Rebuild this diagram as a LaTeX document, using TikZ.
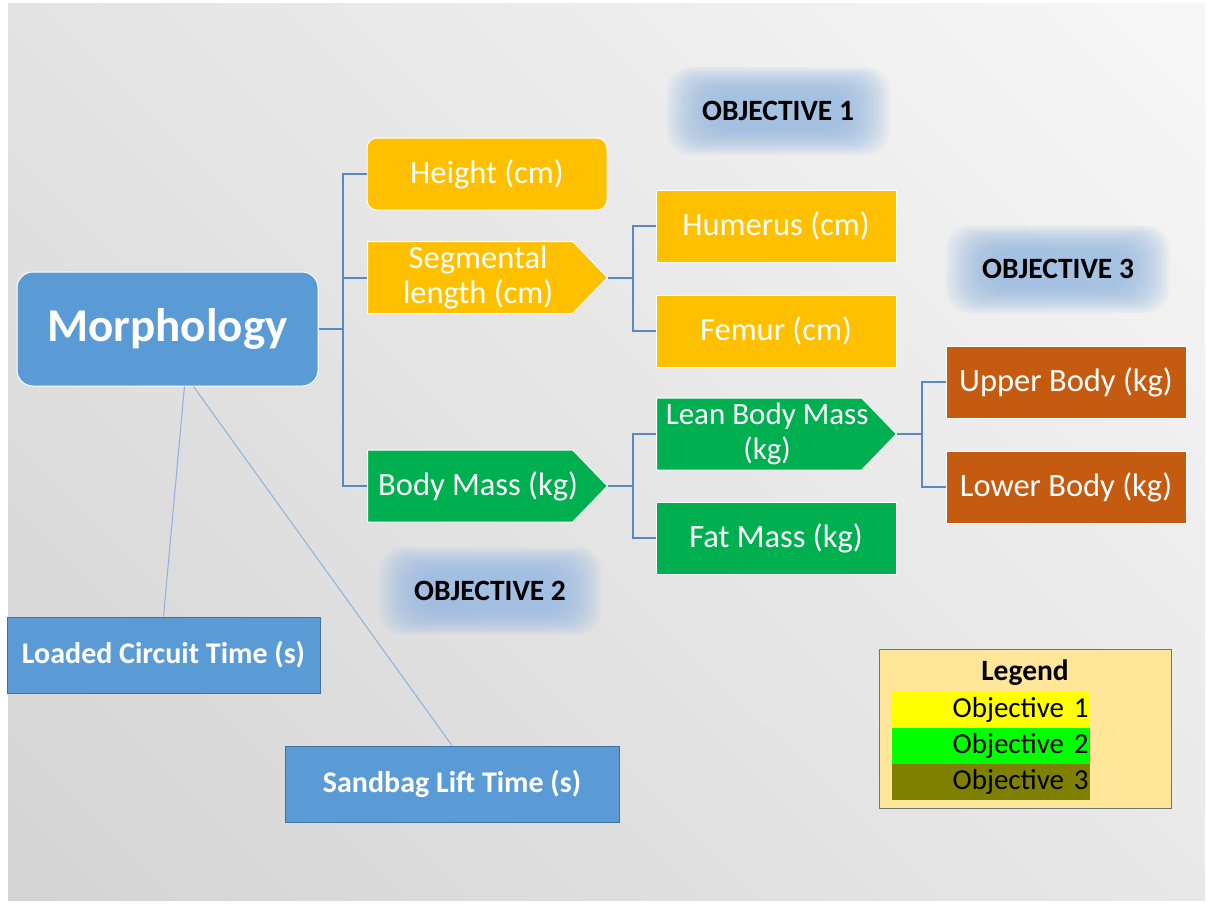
\documentclass[tikz,border=0pt]{standalone}
\usepackage{fontspec}
\setmainfont{Carlito}
\usetikzlibrary{positioning,calc,shapes.symbols,shadings}
\definecolor{morphblue}{RGB}{91,155,213}
\definecolor{morphedge}{RGB}{65,113,156}
\definecolor{objyellow}{RGB}{255,192,0}
\definecolor{objgreen}{RGB}{0,176,80}
\definecolor{objbrown}{RGB}{197,90,17}
\definecolor{linkblue}{RGB}{90,136,194}
\definecolor{faintblue}{RGB}{140,178,222}
\definecolor{glowblue}{RGB}{150,185,225}
\definecolor{legfill}{RGB}{255,230,153}
\definecolor{legyellow}{RGB}{255,255,0}
\definecolor{leggreen}{RGB}{0,255,0}
\definecolor{legolive}{RGB}{128,128,0}
\newcommand{\tipline}[1]{\hspace*{8pt}#1\hspace*{-8pt}}

\begin{document}
\begin{tikzpicture}[x=1pt, y=-1pt,
    box/.style={minimum width=240pt, minimum height=72pt, inner sep=2pt, text=white, draw=white, line width=1pt, align=center, font=\fontsize{32.5}{35}\selectfont},
    tipbox/.style={box, inner xsep=0pt, signal, signal to=east, signal pointer angle=92},
    timebox/.style={draw=morphedge, fill=morphblue, text=white, line width=1pt, minimum height=76pt, font=\bfseries\fontsize{30}{32}\selectfont},
    obj/.style={font=\bfseries\fontsize{29.5}{32}\selectfont},
    conn/.style={draw=linkblue, line width=2pt},
    faintlink/.style={draw=faintblue, line width=1pt},
    legrow/.style={minimum width=198pt, minimum height=36pt, inner sep=0pt, text width=195pt, align=right, font=\fontsize{29}{31}\selectfont}
  ]
    % background
    \fill[white] (0,0) rectangle (1207,905);
    \shade[upper left=black!11, upper right=black!3, lower left=black!17, lower right=black!9] (8,3) rectangle (1205,900);
    \useasboundingbox (0,0) rectangle (1207,905);

    % glow behind the objective labels
    \coordinate (o1pos) at (778,111);
    \coordinate (o2pos) at (490,591);
    \coordinate (o3pos) at (1058,269);
    \foreach \c in {o1pos,o2pos,o3pos}{
      \foreach \k in {0,...,19}{
        \fill[glowblue, opacity=0.07, rounded corners=24pt]
          ($(\c)+(-112+2.2*\k,-44+1.3*\k)$) rectangle ($(\c)+(112-2.2*\k,44-1.3*\k)$);
      }
    }

    \node[rounded corners=16pt, fill=morphblue, draw=white, line width=1pt, minimum width=301pt, minimum height=114pt, text=white, font=\bfseries\fontsize{47}{50}\selectfont] (morph) at (167.5,329) {Morphology};

    \node[box, fill=objyellow, rounded corners=10pt] (height) at (487,174) {Height (cm)};
    \node[tipbox, fill=objyellow, anchor=west] (segm) at (367,277.5) {\tipline{Segmental}\\\tipline{length (cm)}};
    \node[tipbox, fill=objgreen, anchor=west] (body) at (367,486) {\tipline{Body Mass (kg)}};

    \node[box, fill=objyellow] (humerus) at (776,226) {Humerus (cm)};
    \node[box, fill=objyellow] (femur) [below=32pt of humerus] {Femur (cm)};
    \node[tipbox, fill=objgreen, anchor=west, font=\fontsize{31}{35}\selectfont] (lean) at (656,434) {\tipline{Lean Body Mass}\\\tipline{(kg)}};
    \node[box, fill=objgreen] (fat) at (776,538) {Fat Mass (kg)};

    \node[box, fill=objbrown] (upper) at (1066,382) {Upper Body (kg)};
    \node[box, fill=objbrown] (lower) [below=32pt of upper] {Lower Body (kg)};

    \node[timebox, minimum width=313pt] (load) at (163.5,655) {Loaded Circuit Time (s)};
    \node[timebox, minimum width=334pt] (sand) at (452,784) {Sandbag Lift Time (s)};

    \node[obj] (o1) at (o1pos) {OBJECTIVE 1};
    \node[obj] (o2) at (o2pos) {OBJECTIVE 2};
    \node[obj] (o3) at (o3pos) {OBJECTIVE 3};

    % Morphology -> first level
    \coordinate (j1) at ($(morph.east)+(24,0)$);
    \draw[conn] (morph.east) -- (j1);
    \draw[conn] (j1) |- (height.west);
    \draw[conn] (j1) |- (segm.west);
    \draw[conn] (j1) |- (body.west);
    % Segmental length -> bones
    \coordinate (j2) at ($(segm.east)+(25,0)$);
    \draw[conn] (segm.east) -- (j2);
    \draw[conn] (j2) |- (humerus.west);
    \draw[conn] (j2) |- (femur.west);
    % Body mass -> lean / fat
    \coordinate (j3) at ($(body.east)+(25,0)$);
    \draw[conn] (body.east) -- (j3);
    \draw[conn] (j3) |- (lean.west);
    \draw[conn] (j3) |- (fat.west);
    % Lean body mass -> upper / lower
    \coordinate (j4) at ($(lean.east)+(25,0)$);
    \draw[conn] (lean.east) -- (j4);
    \draw[conn] (j4) |- (upper.west);
    \draw[conn] (j4) |- (lower.west);
    % Morphology -> time tests
    \draw[faintlink] ([xshift=17pt]morph.south) -- (load.north);
    \draw[faintlink] ([xshift=26pt]morph.south) -- (sand.north);

    % --- LEGEND ---
    \node[draw=black!55, fill=legfill, line width=1pt, minimum width=292pt, minimum height=159pt] (legend) at (1025,728.5) {};
    \node[font=\bfseries\fontsize{29.5}{31}\selectfont] (legtitle) at ($(legend.north)+(0,24)$) {Legend};
    \node[legrow, fill=legyellow] (leg1) at (991,709.5) {Objective 1};
    \node[legrow, fill=leggreen, below=0pt of leg1] (leg2) {Objective 2};
    \node[legrow, fill=legolive, below=0pt of leg2] (leg3) {Objective 3};
  \end{tikzpicture}
\end{document}
